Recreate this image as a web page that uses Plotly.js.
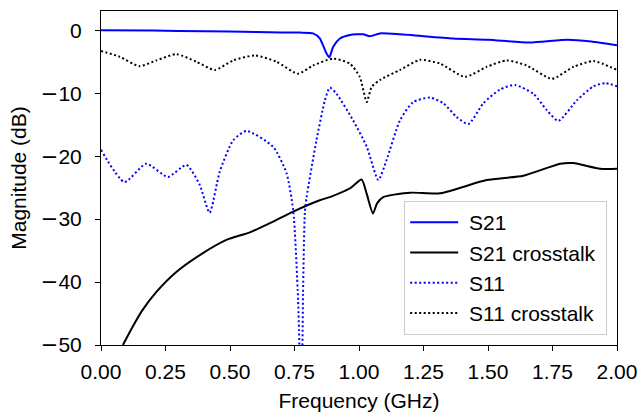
<!DOCTYPE html>
<html>
<head>
<meta charset="utf-8">
<script src="https://cdn.plot.ly/plotly-3.0.1.min.js"></script>
<style>html,body{margin:0;padding:0;background:#fff;}#chart{width:639px;height:412px;}</style>
</head>
<body>
<div id="chart"></div>
<script>
// Frequency (GHz) and magnitude (dB) values
var s21X = [0, 0.2, 0.4, 0.6, 0.77, 0.822, 0.848, 0.874, 0.885, 0.9, 0.926, 0.965, 1.016, 1.042, 1.08, 1.159, 1.365, 1.5, 1.66, 1.81, 1.9, 2.0];
var s21Y = [0, -0.05, -0.15, -0.28, -0.37, -0.5, -1.3, -3.7, -4.3, -2.6, -1.3, -0.74, -0.63, -0.95, -0.5, -0.63, -1.3, -1.5, -1.95, -1.5, -1.8, -2.4];

var s21xtX = [0.085, 0.12, 0.16, 0.214, 0.292, 0.395, 0.486, 0.577, 0.667, 0.745, 0.848, 0.887, 0.965, 1.01, 1.03, 1.054, 1.07, 1.094, 1.198, 1.314, 1.495, 1.637, 1.78, 1.83, 1.935, 2.0];
var s21xtY = [-50, -47.3, -44.5, -41.6, -38.4, -35.4, -33.3, -32.1, -30.4, -28.8, -27.0, -26.5, -25.1, -23.7, -26.0, -29.1, -27.5, -26.5, -25.8, -25.9, -23.8, -23.1, -21.2, -21.1, -22.0, -22.0];

var s11X = [0, 0.091, 0.175, 0.259, 0.331, 0.382, 0.421, 0.46, 0.512, 0.564, 0.667, 0.719, 0.745, 0.764, 0.777, 0.783, 0.79, 0.797, 0.835, 0.868, 0.887, 0.913, 0.977, 1.03, 1.075, 1.107, 1.159, 1.21, 1.275, 1.327, 1.379, 1.424, 1.482, 1.547, 1.605, 1.676, 1.728, 1.773, 1.845, 1.909, 1.955, 2.0];
var s11Y = [-19.0, -24.1, -21.2, -23.3, -21.4, -24.5, -29.0, -22.5, -17.5, -16.0, -18.5, -22.7, -28.6, -42.9, -62, -42, -29.1, -26.5, -17.5, -11.1, -9.1, -10.1, -14.3, -18.5, -23.8, -20.6, -14.3, -11.4, -10.7, -11.6, -13.8, -14.9, -11.6, -9.4, -8.7, -10.1, -12.7, -14.4, -11.1, -8.9, -8.4, -8.9];

var s11xtX = [0, 0.072, 0.149, 0.214, 0.292, 0.37, 0.441, 0.512, 0.596, 0.68, 0.764, 0.822, 0.9, 0.965, 1.003, 1.03, 1.049, 1.081, 1.159, 1.236, 1.314, 1.411, 1.495, 1.573, 1.65, 1.748, 1.832, 1.909, 2.0];
var s11xtY = [-3.3, -4.2, -5.7, -4.8, -3.8, -5.0, -6.3, -4.8, -4.0, -5.0, -6.9, -5.6, -4.5, -5.3, -7.4, -11.4, -9.0, -7.9, -6.3, -4.7, -5.3, -7.4, -5.8, -4.8, -5.6, -7.7, -5.8, -4.9, -6.3];

var seriesNames = ['S21', 'S21 crosstalk', 'S11', 'S11 crosstalk'];
var xTickVals = [0, 0.25, 0.5, 0.75, 1.0, 1.25, 1.5, 1.75, 2.0];
var xTickText = ['0.00', '0.25', '0.50', '0.75', '1.00', '1.25', '1.50', '1.75', '2.00'];
var yTickVals = [0, -10, -20, -30, -40, -50];
var yTickNums = ['0', '10', '20', '30', '40', '50'];
var yTickText = yTickNums.map(function (t, i) {
  return i === 0 ? t : '<span style="font-family:DejaVu Sans">\u2212</span>' + t;
});

var font = 'Liberation Sans, Arial, sans-serif';
var fs = 21;
var sm = 0.6;
var dotted = '2px,2.5px';
function lbl(s) { return '\u00a0' + s + '\u00a0'; }
var traces = [
  {x: s21X, y: s21Y, name: lbl(seriesNames[0]), mode: 'lines', line: {color: '#0000ff', width: 2, shape: 'spline', smoothing: sm}},
  {x: s21xtX, y: s21xtY, name: lbl(seriesNames[1]), mode: 'lines', line: {color: '#000000', width: 2, shape: 'spline', smoothing: sm}},
  {x: s11X, y: s11Y, name: lbl(seriesNames[2]), mode: 'lines', line: {color: '#0000ff', width: 2, dash: dotted, shape: 'spline', smoothing: sm}},
  {x: s11xtX, y: s11xtY, name: lbl(seriesNames[3]), mode: 'lines', line: {color: '#000000', width: 2, dash: dotted, shape: 'spline', smoothing: sm}}
];

var layout = {
  width: 639, height: 412,
  margin: {l: 101, r: 22, t: 11, b: 67, pad: 0},
  paper_bgcolor: '#ffffff', plot_bgcolor: '#ffffff',
  font: {family: font, size: fs, color: '#000'},
  showlegend: true,
  legend: {
    x: 0.981, y: 0.03, xanchor: 'right', yanchor: 'bottom',
    bgcolor: 'rgba(255,255,255,0.8)', bordercolor: '#cccccc', borderwidth: 1,
    font: {family: font, size: fs, color: '#000'}, itemwidth: 48
  },
  xaxis: {
    range: [0, 2.0], tickvals: xTickVals, ticktext: xTickText,
    ticks: 'outside', ticklen: 5, tickwidth: 1, tickcolor: '#000',
    showline: true, linecolor: '#000', linewidth: 1, mirror: true,
    showgrid: false, zeroline: false, ticklabelstandoff: 3,
    tickfont: {family: font, size: fs, color: '#000'},
    title: {text: 'Frequency (GHz)', font: {family: font, size: fs, color: '#000'}, standoff: 19}
  },
  yaxis: {
    range: [-50, 3.06], tickvals: yTickVals, ticktext: yTickText,
    ticks: 'outside', ticklen: 5, tickwidth: 1, tickcolor: '#000',
    showline: true, linecolor: '#000', linewidth: 1, mirror: true,
    showgrid: false, zeroline: false, ticklabelstandoff: 9,
    tickfont: {family: font, size: fs, color: '#000'},
    title: {text: 'Magnitude (dB)', font: {family: font, size: fs, color: '#000'}, standoff: 8}
  }
};

Plotly.newPlot('chart', traces, layout, {displayModeBar: false, staticPlot: true});
</script>
</body>
</html>
